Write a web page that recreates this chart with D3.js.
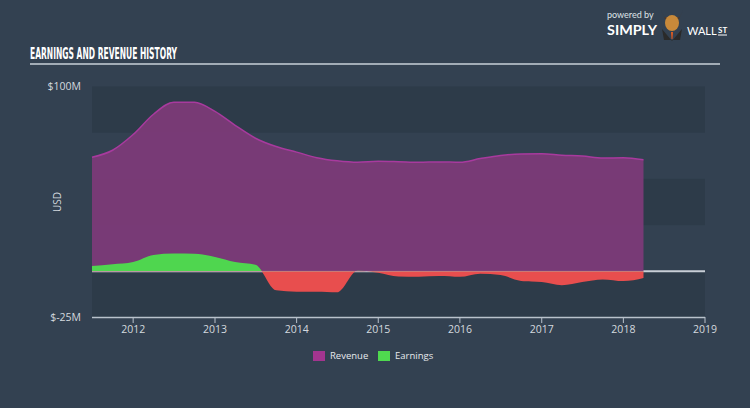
<!DOCTYPE html>
<html><head><meta charset="utf-8">
<script src="https://cdn.jsdelivr.net/npm/d3@7"></script>
<style>
html,body{margin:0;padding:0;background:#334151;}
svg{display:block;}
</style></head>
<body>
<svg id="chart" width="750" height="408"></svg>
<script>
const dates = ["2011-07-01","2011-10-01","2012-01-01","2012-04-01","2012-07-01","2012-10-01","2013-01-01","2013-04-01","2013-07-01","2013-10-01","2014-01-01","2014-04-01","2014-07-01","2014-10-01","2015-01-01","2015-04-01","2015-07-01","2015-10-01","2016-01-01","2016-04-01","2016-07-01","2016-10-01","2017-01-01","2017-04-01","2017-07-01","2017-10-01","2018-01-01","2018-04-01"];
const revenue = [61.7,65.5,74,85,91.5,91.5,86.5,79,72,67.5,64.5,61.5,59.8,59,59.5,59.3,59,59.2,59,61,62.7,63.5,63.6,62.8,62.4,61.3,61.4,60.3];
const earnings = [2.9,3.8,5,8.8,9.6,9.5,7.8,5,3.5,-10.3,-11,-11,-11.4,0.3,-0.8,-2.8,-2.9,-2.6,-3,-1.3,-2,-5.2,-5.8,-7.5,-5.8,-4.4,-5.3,-3.6];
const yearTicks = [2012,2013,2014,2015,2016,2017,2018,2019];
const yTickLabels = ["$100M","$-25M"];
const yTickValues = [100,-25];
const legendItems = ["Revenue","Earnings"];

const svg = d3.select("#chart");
const parse = d3.timeParse("%Y-%m-%d");
const data = dates.map((d,i)=>({date:parse(d), rev:revenue[i], earn:earnings[i]}));

const x = d3.scaleTime().domain([parse("2011-07-01"), parse("2019-01-01")]).range([92,705]);
const y = d3.scaleLinear().domain([-25,100]).range([317.5,86.5]);

// background bands
const bands = [[100,75],[50,25],[0,-25]];
svg.append("g").selectAll("rect").data(bands).join("rect")
  .attr("x",92).attr("width",613)
  .attr("y",d=>y(d[0])).attr("height",d=>y(d[1])-y(d[0]))
  .attr("fill","#2d3b49");

// title
svg.append("text").attr("x",30).attr("y",58.5)
  .attr("fill","#ffffff").attr("font-family","'Liberation Sans Narrow','DejaVu Sans Condensed',sans-serif")
  .attr("font-weight","bold").attr("font-size",16.5)
  .attr("textLength",147).attr("lengthAdjust","spacingAndGlyphs")
  .text("EARNINGS AND REVENUE HISTORY");
svg.append("line").attr("x1",30).attr("x2",720).attr("y1",64).attr("y2",64)
  .attr("stroke","#c9d0d8").attr("stroke-width",1.5);

// logo text
svg.append("text").attr("x",607).attr("y",18).attr("fill","#dfe3e8")
  .attr("font-family","Lato, sans-serif").attr("font-size",9).text("powered by");
svg.append("text").attr("x",607).attr("y",35).attr("fill","#ffffff")
  .attr("font-family","Lato, sans-serif").attr("font-weight","bold").attr("font-size",14)
  .attr("textLength",50).attr("lengthAdjust","spacingAndGlyphs").text("SIMPLY");
svg.append("text").attr("x",687).attr("y",35).attr("fill","#ffffff")
  .attr("font-family","Lato, sans-serif").attr("font-size",11).text("WALL");
svg.append("text").attr("x",718).attr("y",33).attr("fill","#ffffff")
  .attr("font-family","Lato, sans-serif").attr("font-weight","bold").attr("font-size",8).text("ST");
svg.append("line").attr("x1",718).attr("x2",727).attr("y1",35).attr("y2",35).attr("stroke","#fff").attr("stroke-width",1);
// simple bull head icon
const logo = svg.append("g").attr("transform","translate(672,24)");
logo.append("path").attr("d","M-11,-14 L-7,-5 L7,-5 L11,-14 L8,-7 L-8,-7 Z").attr("fill","#4a3a30");
logo.append("ellipse").attr("cy",-1).attr("rx",7).attr("ry",8).attr("fill","#c8893a");
logo.append("path").attr("d","M-10,5 L0,17 L10,5 L8,16 L-8,16 Z").attr("fill","#2a2a2a");
logo.append("path").attr("d","M-1,8 L1,8 L0.5,15 L-0.5,15 Z").attr("fill","#e05a20");

// zero line
svg.append("line").attr("x1",92).attr("x2",705).attr("y1",y(0)).attr("y2",y(0))
  .attr("stroke","#c8ced6").attr("stroke-width",2);

// revenue area
const curve = d3.curveMonotoneX;
const revArea = d3.area().x(d=>x(d.date)).y0(y(0)).y1(d=>y(d.rev)).curve(curve);
const revLine = d3.line().x(d=>x(d.date)).y(d=>y(d.rev)).curve(curve);
svg.append("path").datum(data).attr("d",revArea).attr("fill","#7c3a78").attr("fill-opacity",0.95);
svg.append("path").datum(data).attr("d",revLine).attr("fill","none").attr("stroke","#a83a9e").attr("stroke-width",1.5);

// earnings area, split at zero
const defs = svg.append("defs");
defs.append("clipPath").attr("id","pos").append("rect").attr("x",0).attr("y",0).attr("width",750).attr("height",y(0));
defs.append("clipPath").attr("id","neg").append("rect").attr("x",0).attr("y",y(0)).attr("width",750).attr("height",408);
const earnArea = d3.area().x(d=>x(d.date)).y0(y(0)).y1(d=>y(d.earn)).curve(curve);
svg.append("path").datum(data).attr("d",earnArea).attr("fill","#4fd64f").attr("clip-path","url(#pos)");
svg.append("path").datum(data).attr("d",earnArea).attr("fill","#e84e4e").attr("clip-path","url(#neg)");

// x axis
const xAxisG = svg.append("g");
xAxisG.append("line").attr("x1",92).attr("x2",705).attr("y1",317.5).attr("y2",317.5)
  .attr("stroke","#b9c2cc").attr("stroke-width",1.5);
const tickG = xAxisG.selectAll("g.tick").data(yearTicks).join("g")
  .attr("transform",d=>`translate(${x(new Date(d,0,1))},0)`);
tickG.append("line").attr("y1",317).attr("y2",323).attr("stroke","#b9c2cc").attr("stroke-width",1);
tickG.append("text").attr("y",329).attr("text-anchor","middle")
  .attr("fill","#d4d9df").attr("font-family","'Open Sans',sans-serif").attr("font-size",10.5)
  .attr("dy","0.35em")
  .text(d=>d);

// y labels
svg.append("g").selectAll("text").data(yTickValues).join("text")
  .attr("x",81).attr("y",d=>y(d)).attr("dy","0.35em").attr("text-anchor","end")
  .attr("fill","#d4d9df").attr("font-family","'Open Sans',sans-serif").attr("font-size",10.5)
  .text((d,i)=>yTickLabels[i]);
svg.append("text").attr("transform","translate(57,202) rotate(-90)").attr("text-anchor","middle")
  .attr("dy","0.35em").attr("fill","#d4d9df").attr("font-family","'Open Sans',sans-serif").attr("font-size",10)
  .text("USD");

// legend
const legColors = ["#a3358f","#4fd94f"];
const legX = [313,378];
const leg = svg.append("g").selectAll("g").data(legendItems).join("g")
  .attr("transform",(d,i)=>`translate(${legX[i]},351)`);
leg.append("rect").attr("width",12).attr("height",10).attr("fill",(d,i)=>legColors[i]);
leg.append("text").attr("x",17).attr("y",5).attr("dy","0.35em")
  .attr("fill","#e6e9ed").attr("font-family","'Open Sans',sans-serif").attr("font-size",9.5)
  .text(d=>d);
</script>
</body></html>
